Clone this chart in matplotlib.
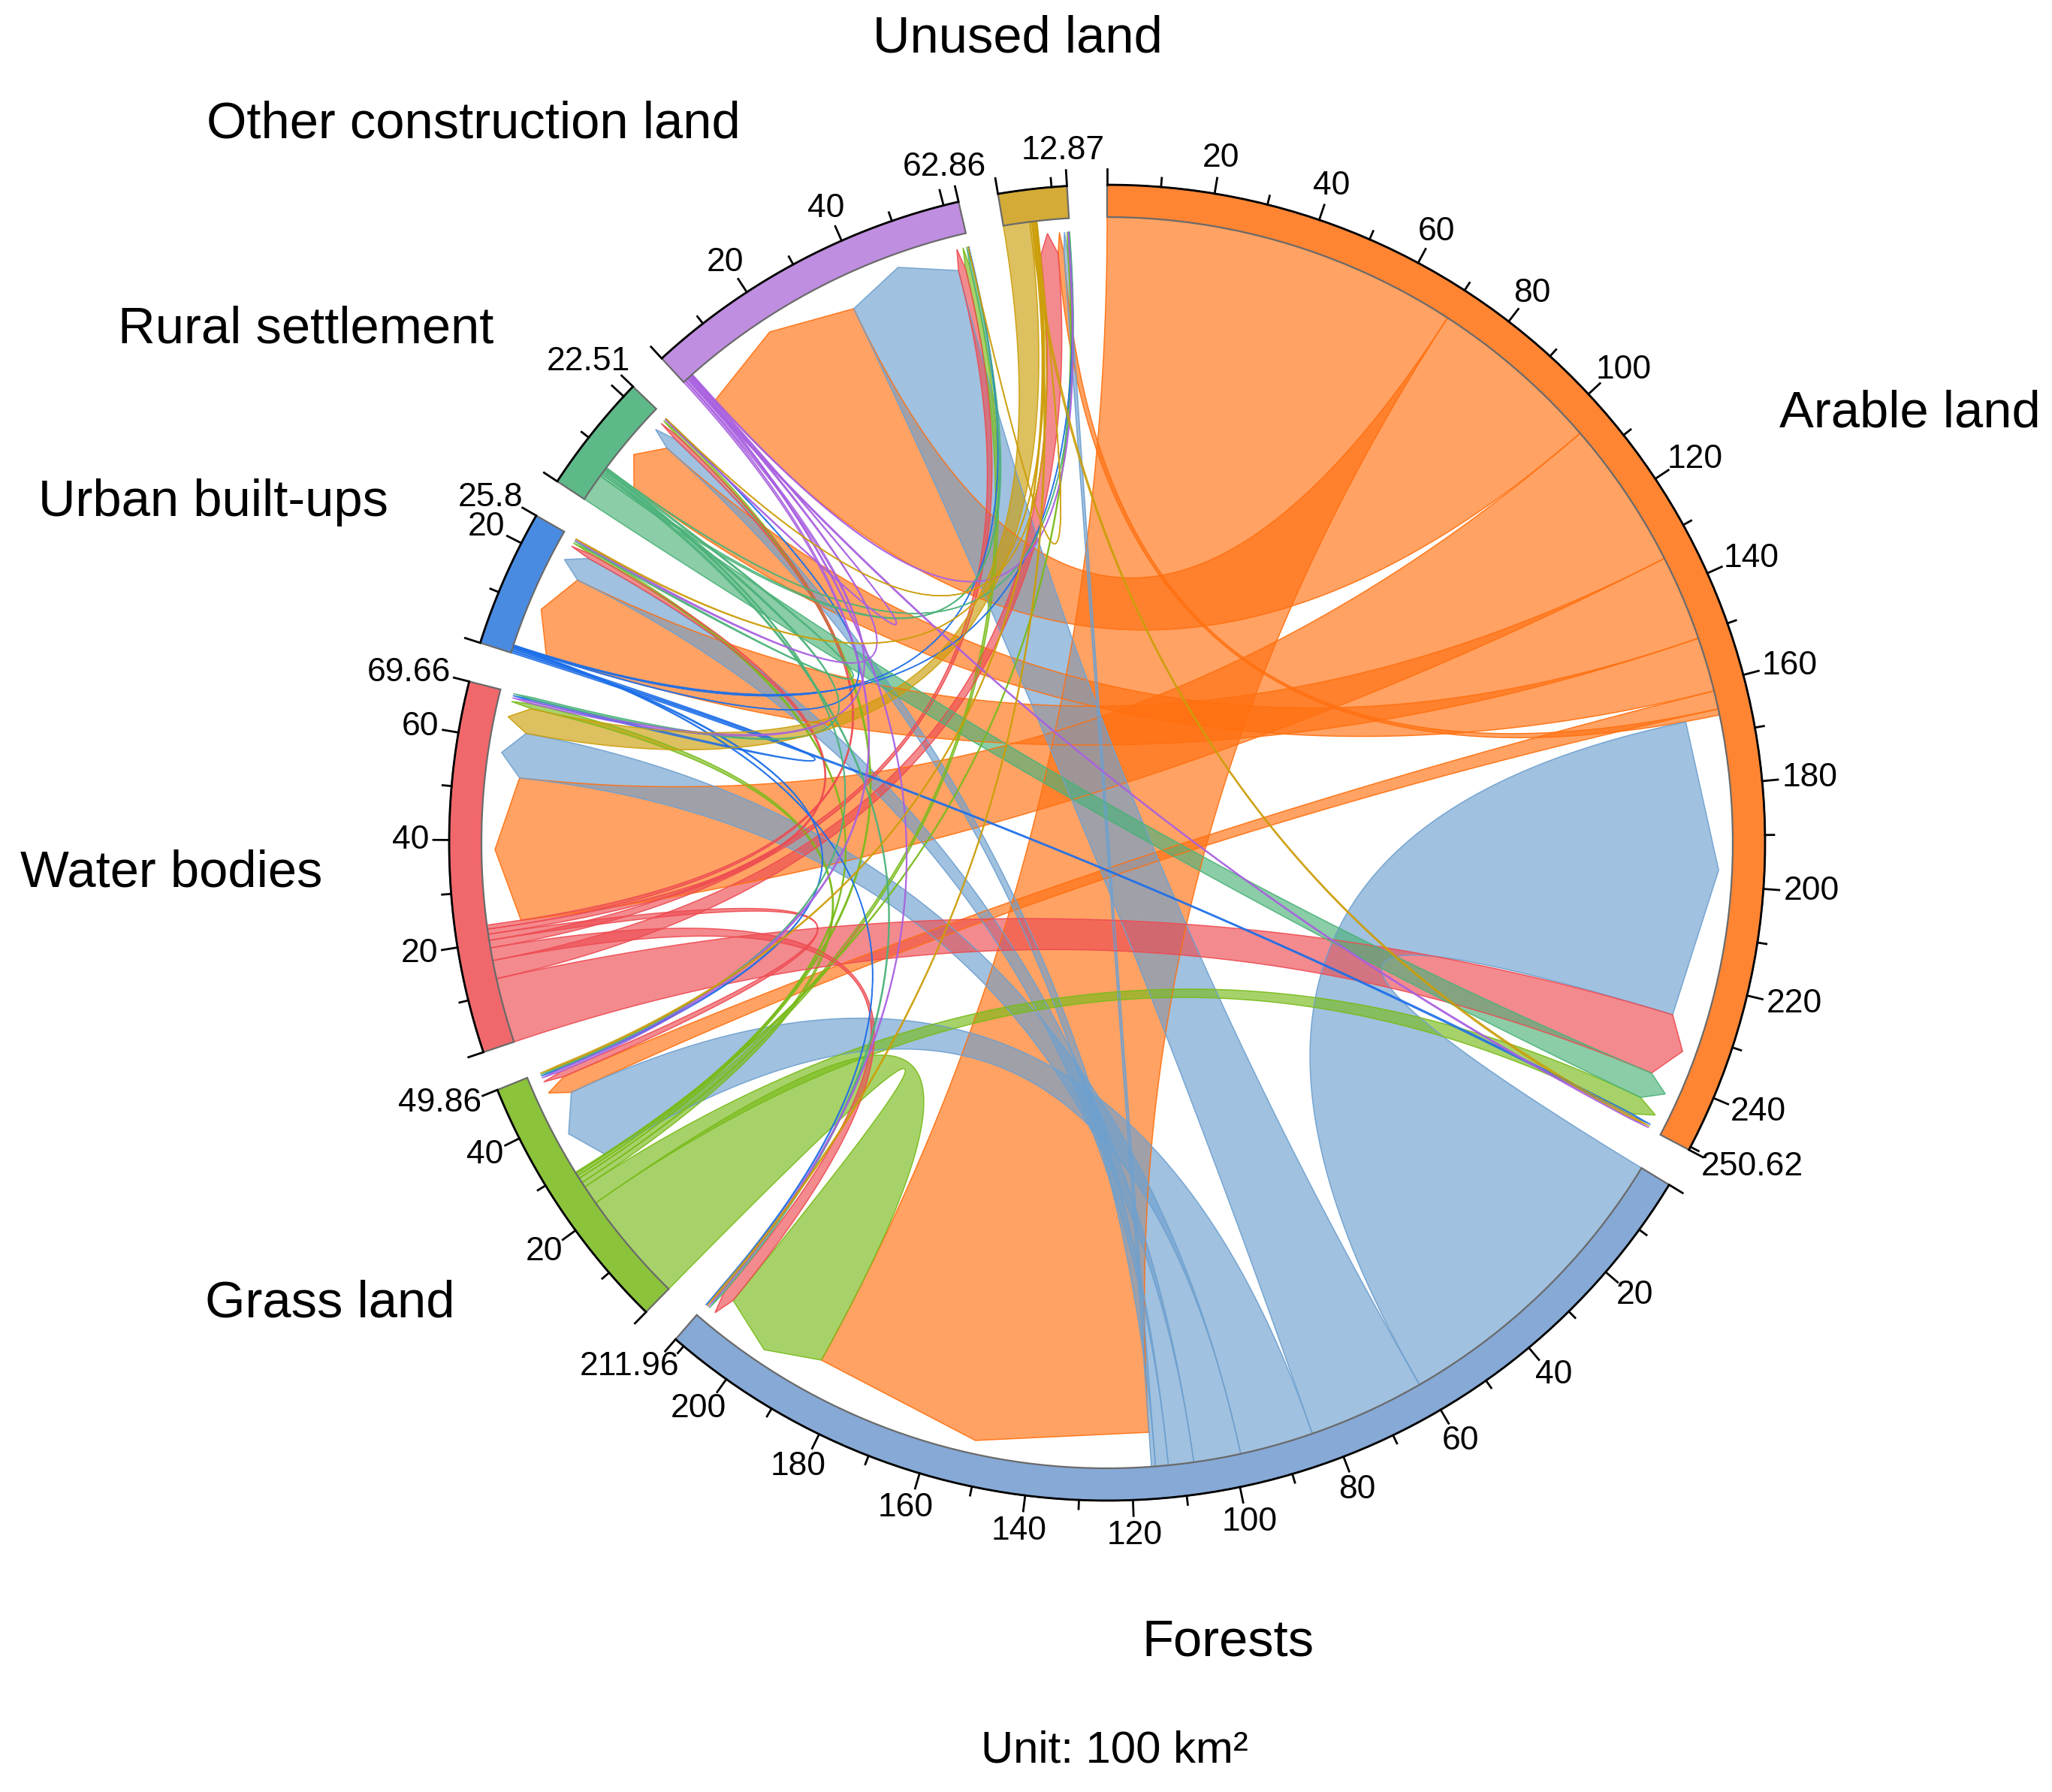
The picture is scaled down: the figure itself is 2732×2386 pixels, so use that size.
import numpy as np
import matplotlib
matplotlib.use('Agg')
import matplotlib.pyplot as plt
from matplotlib.patches import Polygon

plt.rcParams['font.family'] = ['Liberation Sans', 'DejaVu Sans']

# ---------------- data ----------------
sectors = ['Arable land', 'Forests', 'Grass land', 'Water bodies',
           'Urban built-ups', 'Rural settlement', 'Other construction land', 'Unused land']
total_labels = ['250.62', '211.96', '49.86', '69.66', '25.8', '22.51', '62.86', '12.87']

# transfer matrix (unit: 100 km2), row = from, column = to (same order as sectors)
arable_to = [0.00, 70.12, 3.60, 29.48, 16.90, 10.71, 34.35, 1.20]
forest_to = [61.06, 0.00, 14.50, 9.28, 5.00, 2.50, 23.00, 0.80]
grass_to  = [3.80, 22.00, 0.00, 1.00, 0.50, 0.60, 1.00, 0.26]
water_to  = [12.80, 2.50, 1.20, 0.00, 1.00, 0.80, 1.50, 3.60]
urban_to  = [0.40, 0.20, 0.30, 0.40, 0.00, 0.10, 0.10, 0.10]
rural_to  = [5.50, 0.40, 0.30, 0.40, 0.30, 0.00, 0.50, 0.10]
other_to  = [0.30, 0.30, 0.50, 0.50, 0.30, 0.20, 0.00, 0.20]
unused_to = [0.40, 0.30, 0.30, 5.20, 0.20, 0.10, 0.11, 0.00]

track_colors = ['#FF8533', '#86A9D6', '#8BC33A', '#F0686C', '#4A8BE2', '#5DB988', '#BF8EE0', '#D4AB37']
link_colors = ['#FF7010', '#6EA0CF', '#79BB1A', '#EE4B51', '#1E6FE8', '#4BB279', '#A960E0', '#CC9E0A']

M = np.array([arable_to, forest_to, grass_to, water_to, urban_to, rural_to, other_to, unused_to])
n = len(sectors)

# ---------------- layout ----------------
W, H = 2732, 2386
cx, cy = 1474, 1122
R_axis = 876
R_in = 833
R_arrow = R_in - 46
R_tip = R_in - 18
gap = 3.5

widths = M.sum(axis=1) + M.sum(axis=0)
k = (360 - n * gap) / widths.sum()
starts = []
s = 0.0
for i in range(n):
    starts.append(s)
    s += widths[i] * k + gap


def th(i, u):
    return starts[i] + u * k


def pt(r, t):
    rad = np.deg2rad(t)
    return np.array([cx + r * np.sin(rad), cy - r * np.cos(rad)])


def arc(r, t1, t2, m=80):
    tt = np.deg2rad(np.linspace(t1, t2, m))
    return np.column_stack([cx + r * np.sin(tt), cy - r * np.cos(tt)])


def bez(p0, p2, m=120):
    t = np.linspace(0, 1, m)[:, None]
    c = np.array([cx, cy])
    return (1 - t) ** 2 * p0 + 2 * t * (1 - t) * c + t ** 2 * p2


# positions of link ends inside each sector: outgoing first, then incoming (decreasing)
out_pos = {}
in_pos = {}
for i in range(n):
    pos = 0.0
    outs = sorted([j for j in range(n) if M[i, j] > 0], key=lambda j: -M[i, j])
    for j in outs:
        out_pos[(i, j)] = (pos, pos + M[i, j])
        pos += M[i, j]
    ins = sorted([j for j in range(n) if M[j, i] > 0], key=lambda j: -M[j, i])
    for j in ins:
        in_pos[(j, i)] = (pos, pos + M[j, i])
        pos += M[j, i]

fig = plt.figure(figsize=(W / 100, H / 100), dpi=100)
ax = fig.add_axes([0, 0, 1, 1])
ax.set_xlim(0, W)
ax.set_ylim(H, 0)
ax.axis('off')

# ---------------- links ----------------
for i in range(n):
    order = sorted([j for j in range(n) if M[i, j] > 0], key=lambda j: -M[i, j])
    for j in order:
        a1, a2 = out_pos[(i, j)]
        b1, b2 = in_pos[(i, j)]
        ta1, ta2 = th(i, a1), th(i, a2)
        tb1, tb2 = th(j, b1), th(j, b2)
        src = arc(R_in, ta1, ta2)
        e1 = bez(pt(R_in, ta2), pt(R_arrow, tb1))
        head = np.array([pt(R_arrow, tb1), pt(R_tip, (tb1 + tb2) / 2), pt(R_arrow, tb2)])
        e2 = bez(pt(R_arrow, tb2), pt(R_in, ta1))
        poly = np.vstack([src, e1, head, e2])
        ax.add_patch(Polygon(poly, closed=True, facecolor=link_colors[i], alpha=0.65,
                             edgecolor='none', zorder=2))
        ax.add_patch(Polygon(poly, closed=True, facecolor='none', edgecolor=link_colors[i],
                             alpha=0.9, lw=1.1, zorder=2.1))

# ---------------- track, axis, ticks ----------------
renderer = fig.canvas.get_renderer()


def place_text(s, r_in, t, fs):
    txt = ax.text(0, 0, s, ha='center', va='center', fontsize=fs, color='black', zorder=6)
    bb = txt.get_window_extent(renderer)
    w, h = bb.width, bb.height
    p = pt(r_in, t)
    rad = np.deg2rad(t)
    txt.set_position((p[0] + w / 2 * np.sin(rad), p[1] - h / 2 * np.cos(rad)))
    return txt


def place_name(s, r, t, fs):
    p = pt(r, t)
    sn, cs = np.sin(np.deg2rad(t)), np.cos(np.deg2rad(t))
    ha = 'left' if sn > 0.25 else ('right' if sn < -0.25 else 'center')
    va = 'bottom' if cs > 0.25 else ('top' if cs < -0.25 else 'center')
    ax.text(p[0], p[1], s, ha=ha, va=va, fontsize=fs, color='black', zorder=6)


for i in range(n):
    t1, t2 = th(i, 0), th(i, widths[i])
    outer = arc(R_axis, t1, t2)
    inner = arc(R_in, t2, t1)
    ax.add_patch(Polygon(np.vstack([outer, inner]), closed=True, facecolor=track_colors[i],
                         edgecolor='#6A6A6A', lw=1.6, zorder=4))
    ax.plot(*arc(R_axis, t1, t2).T, color='black', lw=2.0, zorder=5, solid_capstyle='butt')
    # ticks
    u = 0.0
    while u <= widths[i] + 1e-9:
        major = (round(u) % 20 == 0)
        L = 21 if major else 12
        p0, p1 = pt(R_axis, th(i, u)), pt(R_axis + L, th(i, u))
        ax.plot([p0[0], p1[0]], [p0[1], p1[1]], color='black', lw=2.0, zorder=5)
        if major and u > 0 and widths[i] - u >= 4:
            place_text(str(int(round(u))), 903, th(i, u), 32)
        u += 10
    # end tick + total label
    p0, p1 = pt(R_axis, t2), pt(R_axis + 21, t2)
    ax.plot([p0[0], p1[0]], [p0[1], p1[1]], color='black', lw=2.0, zorder=5)
    place_text(total_labels[i], 903, t2, 32)
    # sector name
    place_name(sectors[i], 1045, (t1 + t2) / 2, 49.5)

ax.text(1484, 2331, 'Unit: 100 km\u00b2', ha='center', va='center', fontsize=43, color='black')

fig.savefig('out.png', dpi=100)
